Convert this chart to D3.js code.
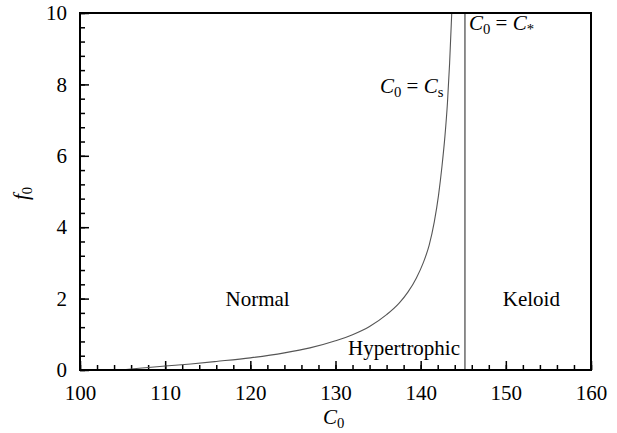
<!DOCTYPE html>
<html>
<head>
<meta charset="utf-8">
<script src="https://cdn.jsdelivr.net/npm/d3@7/dist/d3.min.js"></script>
<style>
  html, body { margin: 0; padding: 0; background: #fff; }
  svg { display: block; }
</style>
</head>
<body>
<svg id="chart" width="617" height="433"></svg>
<script>
// Boundary C0 = Cs between the normal and hypertrophic regimes: [C0, f0]
const csCurve = [
  [104.8, 0.0], [106, 0.028], [108, 0.068], [110, 0.11], [113, 0.17],
  [116, 0.24], [120, 0.34], [124, 0.48], [127, 0.62], [130, 0.82],
  [132, 0.99], [134, 1.22], [136, 1.55], [137.5, 1.88], [138.5, 2.18],
  [139.5, 2.58], [140.3, 3.0], [141, 3.5], [141.6, 4.15], [142.1, 4.9],
  [142.5, 5.7], [142.85, 6.55], [143.15, 7.5], [143.4, 8.6], [143.65, 10.0]
];
// Vertical boundary C0 = C* between hypertrophic and keloid regimes
const cStar = 145.2;

const xTicks = [100, 110, 120, 130, 140, 150, 160];
const yTicks = [0, 2, 4, 6, 8, 10];
const xMinor = d3.range(100, 160.001, 2);
const yMinor = d3.range(0, 10.001, 0.4);

const regions = [
  { name: "Normal", c: 120.85, f: 1.8 },
  { name: "Keloid", c: 153.0, f: 1.8 },
  { name: "Hypertrophic", c: 138.05, f: 0.42 }
];

const W = 617, H = 433;
const margin = { top: 13, right: 26, bottom: 63, left: 80 };
const serif = '"Liberation Serif", "Times New Roman", serif';
const svg = d3.select("#chart").style("font-family", serif);

const x = d3.scaleLinear().domain([100, 160]).range([margin.left, W - margin.right]);
const y = d3.scaleLinear().domain([0, 10]).range([H - margin.bottom, margin.top]);

const fs = 21;

function styleAxis(g) {
  g.style("font-family", serif).attr("font-size", fs);
  g.select(".domain").remove();
  g.selectAll("line").attr("stroke", "#000").attr("stroke-width", 1.5);
  g.selectAll("text").attr("fill", "#000").style("font-family", serif);
}

// minor ticks (inward)
svg.append("g")
  .attr("transform", `translate(0,${y(0)})`)
  .call(d3.axisBottom(x).tickValues(xMinor).tickSize(-5).tickFormat(""))
  .call(styleAxis);
svg.append("g")
  .attr("transform", `translate(${x(100)},0)`)
  .call(d3.axisLeft(y).tickValues(yMinor).tickSize(-5).tickFormat(""))
  .call(styleAxis);

// major ticks with labels
svg.append("g")
  .attr("transform", `translate(0,${y(0)})`)
  .call(d3.axisBottom(x).tickValues(xTicks).tickSize(-9).tickPadding(15).tickFormat(d3.format("d")))
  .call(styleAxis);
svg.append("g")
  .attr("transform", `translate(${x(100)},0)`)
  .call(d3.axisLeft(y).tickValues(yTicks).tickSize(-9).tickPadding(13).tickFormat(d3.format("d")))
  .call(styleAxis);

// boundary curves
const line = d3.line().x(d => x(d[0])).y(d => y(d[1])).curve(d3.curveMonotoneX);
svg.append("path")
  .datum(csCurve)
  .attr("d", line)
  .attr("fill", "none")
  .attr("stroke", "#555")
  .attr("stroke-width", 1.1);

svg.append("line")
  .attr("x1", x(cStar)).attr("x2", x(cStar))
  .attr("y1", y(0)).attr("y2", y(10))
  .attr("stroke", "#333")
  .attr("stroke-width", 1.1);

// frame
svg.append("rect")
  .attr("x", x(100)).attr("y", y(10))
  .attr("width", x(160) - x(100)).attr("height", y(0) - y(10))
  .attr("fill", "none").attr("stroke", "#000").attr("stroke-width", 2);

// region labels
svg.append("g").selectAll("text")
  .data(regions)
  .join("text")
  .attr("x", d => x(d.c))
  .attr("y", d => y(d.f))
  .attr("text-anchor", "middle")
  .attr("font-size", fs)
  .style("font-family", serif)
  .text(d => d.name);

// math-style labels: italic letter with upright subscript
function mathLabel(sel, parts) {
  sel.style("font-family", serif);
  parts.forEach(p => {
    const t = sel.append("tspan").text(p.t);
    if (p.italic) t.attr("font-style", "italic");
    if (p.sub) t.attr("font-size", fs * 0.7).attr("dy", 4);
    if (p.unsub) t.attr("dy", -4);
  });
  return sel;
}

mathLabel(svg.append("text").attr("x", 380).attr("y", 93).attr("font-size", fs), [
  { t: "C", italic: true }, { t: "0", sub: true }, { t: " = ", unsub: true },
  { t: "C", italic: true }, { t: "s", sub: true }
]);
mathLabel(svg.append("text").attr("x", 469).attr("y", 30).attr("font-size", fs), [
  { t: "C", italic: true }, { t: "0", sub: true }, { t: " = ", unsub: true },
  { t: "C", italic: true }, { t: "*", sub: true }
]);

// axis titles
mathLabel(svg.append("text").attr("x", 323).attr("y", 424).attr("font-size", fs), [
  { t: "C", italic: true }, { t: "0", sub: true }
]);
mathLabel(svg.append("text")
  .attr("transform", "translate(28,200) rotate(-90)")
  .attr("font-size", fs), [
  { t: "f", italic: true }, { t: "0", sub: true }
]);
</script>
</body>
</html>
